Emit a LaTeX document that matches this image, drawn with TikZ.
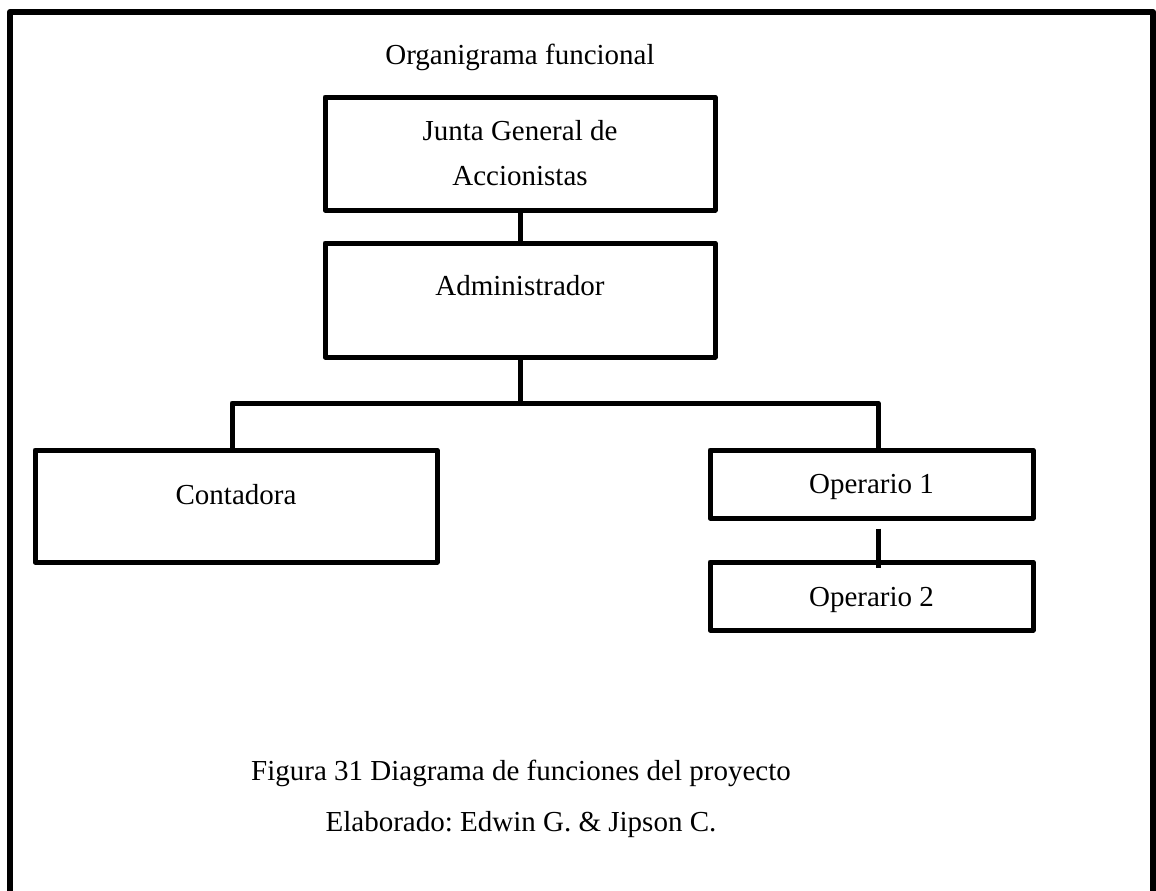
\documentclass[tikz,border=0pt]{standalone}
\usepackage{fontspec}
\setmainfont{Liberation Serif}
\usetikzlibrary{calc}
\frenchspacing
\begin{document}
\begin{tikzpicture}[x=1pt,y=-1pt,
  every node/.style={font=\fontsize{29}{45}\selectfont},
  orgbox/.style={draw, line width=5pt, line join=round, inner sep=0pt, anchor=base},
  link/.style={line width=5pt},
  caption/.style={anchor=base, inner sep=0pt}]
\useasboundingbox (0,0) rectangle (1156,891);

% outer frame, open at the bottom
\draw[line width=6pt, line join=round] (10,891) -- (10,12) -- (1153,12) -- (1153,891);

\node[caption] (title) at (520,65) {Organigrama funcional};

% boxes
\node[orgbox, anchor=center, minimum width=390pt, minimum height=113pt, align=center]
  (junta) at (520,153.5) {Junta General de\\Accionistas};
\node[orgbox, minimum width=390pt, text height=52pt, text depth=62pt]
  (adm) at (520,295) {Administrador};
\node[orgbox, minimum width=402pt, text height=54pt, text depth=58pt]
  (cont) at (236,504) {Contadora};
\node[orgbox, minimum width=323pt, text height=43pt, text depth=25pt]
  (op1) at (871.5,493) {Operario 1};
\node[orgbox, minimum width=323pt, text height=44pt, text depth=24pt]
  (op2) at (871.5,606) {Operario 2};

% connectors
\coordinate (busL) at (232,403);
\coordinate (busR) at (878,403);
\draw[link] (junta.south) -- (adm.north);
\draw[link] (adm.south) -- (adm.south |- busL);
\draw[link, line join=round] (cont.north -| busL) -- (busL) -- (busR) -- (busR |- op1.north);
\draw[link] ($(op1.south -| busR)+(0,8)$) -- ($(op2.north -| busR)+(0,8)$);

% caption
\node[caption] (fig) at (521,780) {Figura 31 Diagrama de funciones del proyecto};
\node[caption] (elab) at (521,831) {Elaborado: Edwin G. \& Jipson C.};
\end{tikzpicture}
\end{document}
